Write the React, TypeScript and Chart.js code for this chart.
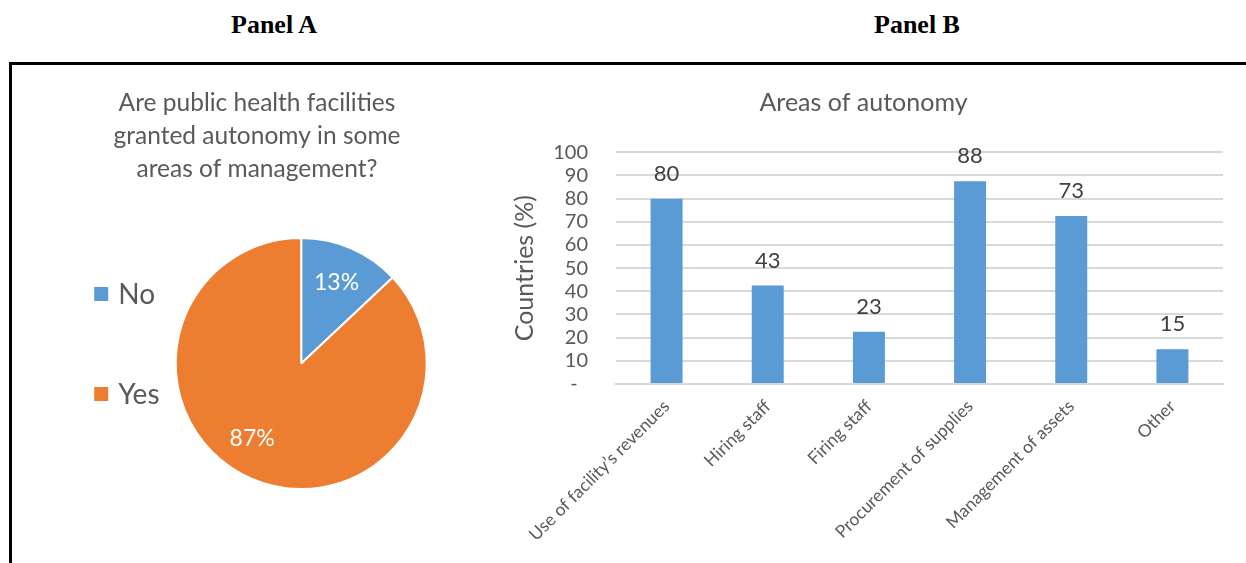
import React, { useEffect, useRef } from "react";
import { Chart, registerables } from "chart.js";

Chart.register(...registerables);

// ---------- data ----------
const pieTitleLines = ["Are public health facilities", "granted autonomy in some", "areas of management?"];
const pieCategories = ["No", "Yes"];
const pieValues = [13, 87];
const pieColors = ["#5b9bd5", "#ed7d31"];

const barTitle = "Areas of autonomy";
const barCategories = [
  "Use of facility’s revenues",
  "Hiring staff",
  "Firing staff",
  "Procurement of supplies",
  "Management of assets",
  "Other",
];
const barValues = [80, 42.5, 22.5, 87.5, 72.5, 15];
const yTickValues = [0, 10, 20, 30, 40, 50, 60, 70, 80, 90, 100];
const yTickLabels = ["-  ", "10", "20", "30", "40", "50", "60", "70", "80", "90", "100"];
const yAxisTitle = "Countries (%)";

const FONT = "Lato";
const TEXT = "#595959";

// ---------- pie decorations ----------
const pieDecor = {
  id: "pieDecor",
  afterDraw(chart: any) {
    const ctx = chart.ctx;
    const meta = chart.getDatasetMeta(0);
    const first = meta.data[0];
    const cx = first.x;
    const cy = first.y;
    const R = first.outerRadius;
    ctx.save();
    // title
    ctx.font = `24.5px ${FONT}`;
    ctx.fillStyle = TEXT;
    ctx.textAlign = "center";
    ctx.textBaseline = "middle";
    const tx = chart.width / 2;
    pieTitleLines.forEach((line, i) => {
      ctx.fillText(line, tx, 37 + i * 33);
    });
    // legend
    ctx.font = `28px ${FONT}`;
    ctx.textAlign = "left";
    pieCategories.forEach((c, i) => {
      const y = cy - 69.5 + i * 100;
      ctx.fillStyle = pieColors[i];
      ctx.fillRect(cx - 207, y - 7, 14, 14);
      ctx.fillStyle = TEXT;
      ctx.fillText(c, cx - 183, y + 1);
    });
    // data labels
    const nudge = [0, (10 * Math.PI) / 180];
    ctx.font = `23px ${FONT}`;
    ctx.fillStyle = "#ffffff";
    ctx.textAlign = "center";
    const total = pieValues.reduce((a, b) => a + b, 0);
    meta.data.forEach((arc: any, i: number) => {
      const mid = (arc.startAngle + arc.endAngle) / 2 + nudge[i];
      const r = R * 0.71;
      const pct = Math.round((pieValues[i] / total) * 100) + "%";
      ctx.fillText(pct, cx + Math.cos(mid) * r, cy + Math.sin(mid) * r + 1);
    });
    ctx.restore();
  },
};

// ---------- bar value labels ----------
const barValueLabels = {
  id: "barValueLabels",
  afterDatasetsDraw(chart: any) {
    const ctx = chart.ctx;
    const meta = chart.getDatasetMeta(0);
    ctx.save();
    ctx.font = `22px ${FONT}`;
    ctx.fillStyle = "#404040";
    ctx.textAlign = "center";
    ctx.textBaseline = "middle";
    meta.data.forEach((bar: any, i: number) => {
      ctx.fillText(String(Math.round(barValues[i])), bar.x, bar.y - 25);
    });
    ctx.restore();
  },
};

function PieChart() {
  const ref = useRef<HTMLCanvasElement>(null);
  useEffect(() => {
    let chart: Chart | null = null;
    let cancelled = false;
    const make = () => {
      if (cancelled || !ref.current) return;
      chart = new Chart(ref.current, {
        type: "pie",
        data: {
          labels: pieCategories,
          datasets: [
            {
              data: pieValues,
              backgroundColor: pieColors,
              borderColor: "#ffffff",
              borderWidth: 2,
            },
          ],
        },
        options: {
          animation: false,
          responsive: false,
          radius: 125.5,
          layout: { padding: { left: 88.4, right: 0, top: 98, bottom: 0 } },
          plugins: {
            legend: { display: false },
            tooltip: { enabled: false },
            title: { display: false },
          },
        } as any,
        plugins: [pieDecor],
      });
    };
    (document as any).fonts.load(`20px ${FONT}`).then(make, make);
    return () => {
      cancelled = true;
      if (chart) chart.destroy();
    };
  }, []);
  return (
    <canvas
      ref={ref}
      width={490}
      height={497}
      style={{ position: "absolute", left: 12, top: 66, width: 490, height: 497 }}
    />
  );
}

function BarChart() {
  const ref = useRef<HTMLCanvasElement>(null);
  useEffect(() => {
    let chart: Chart | null = null;
    let cancelled = false;
    const make = () => {
      if (cancelled || !ref.current) return;
      chart = new Chart(ref.current, {
        type: "bar",
        data: {
          labels: barCategories,
          datasets: [
            {
              data: barValues,
              backgroundColor: "#5b9bd5",
              barPercentage: 0.316,
              categoryPercentage: 1,
            },
          ],
        },
        options: {
          animation: false,
          responsive: false,
          layout: { padding: { left: 0, right: 23, top: 0, bottom: 0 } },
          plugins: {
            legend: { display: false },
            tooltip: { enabled: false },
            title: {
              display: true,
              text: barTitle,
              color: TEXT,
              font: { family: FONT, size: 25, weight: "normal" },
              padding: { top: 22, bottom: 34.3 },
            },
          },
          scales: {
            x: {
              grid: { display: false, drawTicks: false },
              border: { display: true, color: "#d9d9d9", width: 2 },
              ticks: {
                maxRotation: 45,
                minRotation: 45,
                autoSkip: false,
                color: TEXT,
                font: { family: FONT, size: 17.5 },
                padding: 12,
              },
              afterFit: (s: any) => {
                s.height = 179;
              },
            },
            y: {
              min: 0,
              max: 100,
              afterBuildTicks: (s: any) => {
                s.ticks = yTickValues.map((v) => ({ value: v }));
              },
              ticks: {
                autoSkip: false,
                padding: 28,
                color: TEXT,
                font: { family: FONT, size: 20, lineHeight: 1 },
                callback: (v: any) => yTickLabels[yTickValues.indexOf(Number(v))],
              },
              grid: { color: "#d9d9d9", lineWidth: 2, drawTicks: false },
              border: { display: false },
              title: {
                display: true,
                text: yAxisTitle,
                color: TEXT,
                font: { family: FONT, size: 25 },
                padding: { top: 6, bottom: 0 },
              },
              afterFit: (s: any) => {
                s.width = 112;
              },
            },
          },
        } as any,
        plugins: [barValueLabels],
      });
    };
    (document as any).fonts.load(`20px ${FONT}`).then(make, make);
    return () => {
      cancelled = true;
      if (chart) chart.destroy();
    };
  }, []);
  return (
    <canvas
      ref={ref}
      width={742}
      height={497}
      style={{ position: "absolute", left: 504, top: 66, width: 742, height: 497 }}
    />
  );
}

export default function App() {
  const heading: React.CSSProperties = {
    position: "absolute",
    top: 10,
    height: 30,
    lineHeight: "30px",
    fontFamily: "'Liberation Serif', 'Times New Roman', serif",
    fontWeight: "bold",
    fontSize: 26,
    textAlign: "center",
    color: "#000",
  };
  return (
    <div
      style={{
        position: "absolute",
        left: 0,
        top: 0,
        width: 1246,
        height: 563,
        background: "#ffffff",
        overflow: "hidden",
      }}
    >
      <div style={{ ...heading, left: 124, width: 300 }}>Panel A</div>
      <div style={{ ...heading, left: 767, width: 300 }}>Panel B</div>
      <div
        style={{
          position: "absolute",
          left: 9,
          top: 62,
          width: 1260,
          height: 520,
          borderTop: "3px solid #000",
          borderLeft: "3px solid #000",
          boxSizing: "border-box",
        }}
      />
      <PieChart />
      <BarChart />
    </div>
  );
}
